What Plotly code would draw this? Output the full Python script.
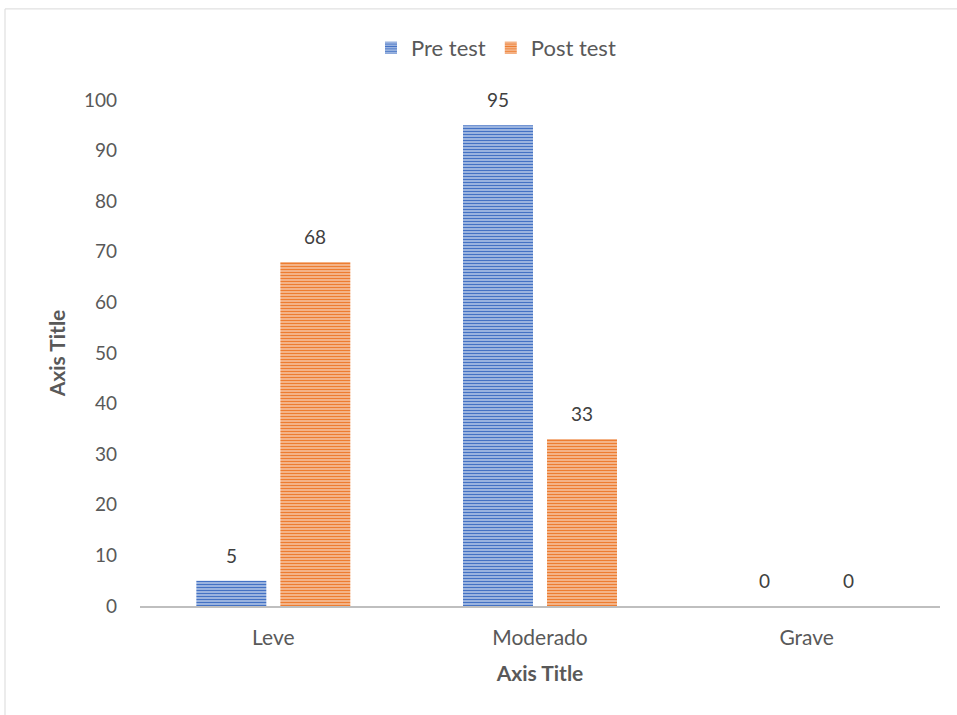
import plotly.graph_objects as go

categories = ["Leve", "Moderado", "Grave"]
pre_test = [5, 95, 0]
post_test = [68, 33, 0]
y_ticks = [0, 10, 20, 30, 40, 50, 60, 70, 80, 90, 100]

FONT = "Lato, 'Open Sans', sans-serif"
TXT = "#595959"


def striped(fg, bg):
    return dict(color=fg, line=dict(width=0),
                pattern=dict(shape="-", fgcolor=fg, bgcolor=bg,
                             size=3, solidity=0.6, fillmode="replace"))


fig = go.Figure()
fig.add_trace(go.Bar(name="Pre test", x=categories, y=pre_test,
                     marker=striped("#4472C4", "#D3DEF2")))
fig.add_trace(go.Bar(name="Post test", x=categories, y=post_test,
                     marker=striped("#ED7D31", "#FAD7C0")))

# value labels above each bar
annotations = []
for series, shift in ((pre_test, -42), (post_test, 42)):
    for cat, val in zip(categories, series):
        annotations.append(dict(x=cat, y=val, xref="x", yref="y", text=str(val),
                                showarrow=False, yanchor="bottom", xshift=shift, yshift=12,
                                font=dict(size=19, color="#404040", family=FONT)))

fig.update_layout(
    width=957, height=715,
    margin=dict(l=140, r=17, t=100, b=109, autoexpand=False),
    paper_bgcolor="white", plot_bgcolor="white",
    barmode="group", bargap=0.37, bargroupgap=0.167,
    font=dict(family=FONT, size=19, color=TXT),
    showlegend=True,
    legend=dict(orientation="h", x=0.445, xanchor="center", y=1.103, yanchor="middle",
                bgcolor="rgba(0,0,0,0)", font=dict(size=22, color=TXT),
                itemwidth=30, traceorder="normal"),
    xaxis=dict(showline=True, linecolor="#BFBFBF", linewidth=2, ticks="",
               tickfont=dict(size=21, color=TXT), showgrid=False, ticklabelstandoff=12,
               title=dict(text="<b>Axis Title</b>", font=dict(size=21, color=TXT), standoff=18)),
    yaxis=dict(range=[0, 100], tickvals=y_ticks, showgrid=False, zeroline=False,
               showline=False, ticks="", tickfont=dict(size=19, color=TXT), ticklabelstandoff=22,
               title=dict(text="<b>Axis Title</b>", font=dict(size=21, color=TXT), standoff=12)),
    annotations=annotations,
    shapes=[dict(type="rect", xref="paper", yref="paper",
                 x0=-0.16875, x1=1.03, y0=-0.23, y1=1.18,
                 line=dict(color="#D9D9D9", width=1), fillcolor="rgba(0,0,0,0)", layer="below")],
)

fig.write_html("out.html")
